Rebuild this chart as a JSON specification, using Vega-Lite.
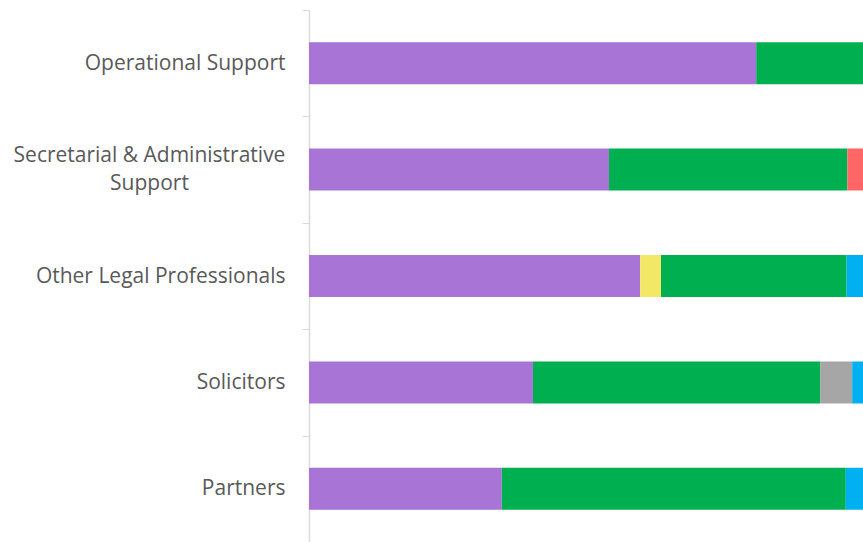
{
  "$schema": "https://vega.github.io/schema/vega-lite/v6.json",
  "width": 554,
  "height": 532,
  "autosize": "none",
  "padding": {"left": 309, "top": 10, "right": 0, "bottom": 0},
  "background": "white",
  "config": {"view": {"stroke": null}},
  "data": {
    "values": [
      {"role": "Operational Support", "group": "G1", "pct": 55.9},
      {"role": "Operational Support", "group": "G3", "pct": 44.1},
      {"role": "Secretarial & Administrative Support", "group": "G1", "pct": 37.5},
      {"role": "Secretarial & Administrative Support", "group": "G3", "pct": 29.8},
      {"role": "Secretarial & Administrative Support", "group": "G4", "pct": 32.7},
      {"role": "Other Legal Professionals", "group": "G1", "pct": 41.4},
      {"role": "Other Legal Professionals", "group": "G2", "pct": 2.6},
      {"role": "Other Legal Professionals", "group": "G3", "pct": 23.2},
      {"role": "Other Legal Professionals", "group": "G6", "pct": 32.8},
      {"role": "Solicitors", "group": "G1", "pct": 28.0},
      {"role": "Solicitors", "group": "G3", "pct": 35.9},
      {"role": "Solicitors", "group": "G5", "pct": 4.0},
      {"role": "Solicitors", "group": "G6", "pct": 32.1},
      {"role": "Partners", "group": "G1", "pct": 24.1},
      {"role": "Partners", "group": "G3", "pct": 43.0},
      {"role": "Partners", "group": "G6", "pct": 32.9}
    ]
  },
  "mark": {"type": "bar", "clip": true, "height": {"band": 0.395}},
  "encoding": {
    "y": {
      "field": "role",
      "type": "nominal",
      "sort": ["Operational Support", "Secretarial & Administrative Support", "Other Legal Professionals", "Solicitors", "Partners"],
      "scale": {"paddingInner": 0, "paddingOuter": 0},
      "axis": {
        "title": null,
        "tickBand": "extent",
        "tickSize": 7,
        "tickColor": "#D9D9D9",
        "domainColor": "#D9D9D9",
        "domainWidth": 1.5,
        "labelPadding": {"expr": "datum.label == 'Secretarial & Administrative Support' ? 153 : 17"},
        "labelAlign": {"expr": "datum.label == 'Secretarial & Administrative Support' ? 'center' : 'right'"},
        "labelFont": "Open Sans",
        "labelFontSize": 21,
        "labelColor": "#595959",
        "labelLimit": 400,
        "labelLineHeight": 28,
        "labelOffset": {"expr": "datum.label == 'Secretarial & Administrative Support' ? -14 : 0"},
        "labelExpr": "datum.label == 'Secretarial & Administrative Support' ? ['Secretarial & Administrative', 'Support'] : datum.label"
      }
    },
    "x": {
      "field": "pct",
      "type": "quantitative",
      "stack": "zero",
      "scale": {"domain": [0, 69.25], "nice": false},
      "axis": null
    },
    "color": {
      "field": "group",
      "type": "nominal",
      "sort": ["G1", "G2", "G3", "G4", "G5", "G6"],
      "scale": {
        "domain": ["G1", "G2", "G3", "G4", "G5", "G6"],
        "range": ["#A875D6", "#F2E866", "#00B050", "#FF6666", "#A6A6A6", "#00B0F0"]
      },
      "legend": null
    }
  }
}
